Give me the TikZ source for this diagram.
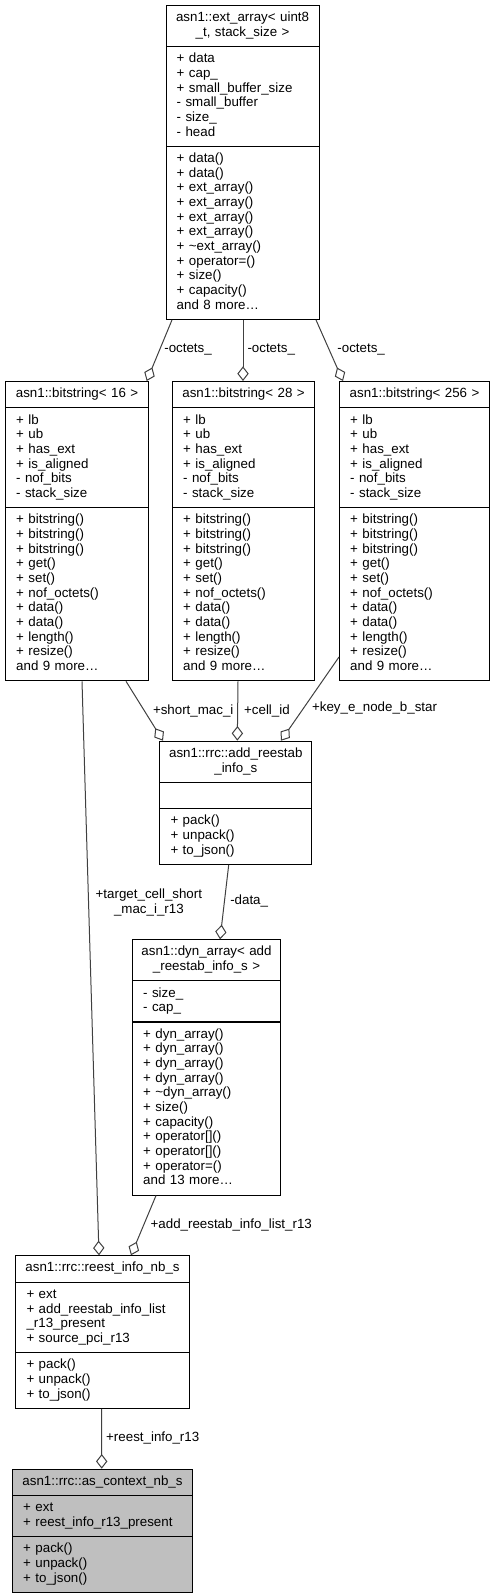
\documentclass[tikz,border=0pt]{standalone}
\usepackage{fontspec}
\setmainfont{Liberation Sans}
\usepackage{tikz}
\usetikzlibrary{arrows.meta,positioning,shapes.multipart,calc}
\definecolor{edgegray}{HTML}{404040}
\definecolor{selfbg}{HTML}{BFBFBF}
\newcommand{\ctitle}[1]{\makebox[\linewidth]{#1}}

\begin{document}
\begin{tikzpicture}[
  x=0.75pt, y=-0.75pt,
  cls/.style={draw=black, line width=0.8pt, rectangle split, rectangle split parts=3,
              anchor=north west, inner xsep=8pt, inner ysep=4pt, text width=#1*0.75pt-16pt,
              align=left, font=\fontsize{10}{11}\selectfont},
  agg/.style={draw=edgegray, line width=0.75pt,
              -{Diamond[open, length=11pt, width=8.5pt, fill=white]}},
  lbl/.style={anchor=west, inner sep=3pt, font=\fontsize{10}{11}\selectfont}
]
  \path[use as bounding box] (0,0) rectangle (494,1595);

  % template classes
  \node[cls=153] (ext) at (165.5,5) {\strut\ctitle{asn1::ext\_array< uint8}\\\ctitle{\_t, stack\_size >}\strut
    \nodepart{two}\strut + data\\+ cap\_\\+ small\_buffer\_size\\- small\_buffer\\- size\_\\- head\strut
    \nodepart{three}\strut + data()\\+ data()\\+ ext\_array()\\+ ext\_array()\\+ ext\_array()\\+ ext\_array()\\
      + \textasciitilde ext\_array()\\+ operator=()\\+ size()\\+ capacity()\\and 8 more\dots\strut};

  \node[cls=143] (bs16) at (5,381) {\strut\ctitle{asn1::bitstring< 16 >}\strut
    \nodepart{two}\strut + lb\\+ ub\\+ has\_ext\\+ is\_aligned\\- nof\_bits\\- stack\_size\strut
    \nodepart{three}\strut + bitstring()\\+ bitstring()\\+ bitstring()\\+ get()\\+ set()\\+ nof\_octets()\\
      + data()\\+ data()\\+ length()\\+ resize()\\and 9 more\dots\strut};
  \node[cls=142] (bs28) at (172,381) {\strut\ctitle{asn1::bitstring< 28 >}\strut
    \nodepart{two}\strut + lb\\+ ub\\+ has\_ext\\+ is\_aligned\\- nof\_bits\\- stack\_size\strut
    \nodepart{three}\strut + bitstring()\\+ bitstring()\\+ bitstring()\\+ get()\\+ set()\\+ nof\_octets()\\
      + data()\\+ data()\\+ length()\\+ resize()\\and 9 more\dots\strut};
  \node[cls=150] (bs256) at (339,381) {\strut\ctitle{asn1::bitstring< 256 >}\strut
    \nodepart{two}\strut + lb\\+ ub\\+ has\_ext\\+ is\_aligned\\- nof\_bits\\- stack\_size\strut
    \nodepart{three}\strut + bitstring()\\+ bitstring()\\+ bitstring()\\+ get()\\+ set()\\+ nof\_octets()\\
      + data()\\+ data()\\+ length()\\+ resize()\\and 9 more\dots\strut};

  % rrc structs
  \node[cls=152] (addinfo) at (159.3,740.7) {\strut\ctitle{asn1::rrc::add\_reestab}\\\ctitle{\_info\_s}\strut
    \nodepart{two}\strut
    \nodepart{three}\strut + pack()\\+ unpack()\\+ to\_json()\strut};

  \node[cls=148] (dynarr) at (132,939.3) {\strut\ctitle{asn1::dyn\_array< add}\\\ctitle{\_reestab\_info\_s >}\strut
    \nodepart{two}\strut - size\_\\- cap\_\strut
    \nodepart{three}\strut + dyn\_array()\\+ dyn\_array()\\+ dyn\_array()\\+ dyn\_array()\\+ \textasciitilde dyn\_array()\\
      + size()\\+ capacity()\\+ operator[]()\\+ operator[]()\\+ operator=()\\and 13 more\dots\strut};

  \node[cls=173.4] (reest) at (15.3,1255.3) {\strut\ctitle{asn1::rrc::reest\_info\_nb\_s}\strut
    \nodepart{two}\strut + ext\\+ add\_reestab\_info\_list\\\_r13\_present\\+ source\_pci\_r13\strut
    \nodepart{three}\strut + pack()\\+ unpack()\\+ to\_json()\strut};

  \node[cls=180, fill=selfbg] (ctx) at (12,1468.7) {\strut\ctitle{asn1::rrc::as\_context\_nb\_s}\strut
    \nodepart{two}\strut + ext\\+ reest\_info\_r13\_present\strut
    \nodepart{three}\strut + pack()\\+ unpack()\\+ to\_json()\strut};

  % aggregations
  \draw[agg] ($(ext.south west)+(6.5,0)$) -- node[lbl, pos=0.48] {-octets\_} ($(bs16.north west)+(141.7,0)$);
  \draw[agg] ($(ext.south west)+(77.5,0)$) -- node[lbl, pos=0.48] {-octets\_} ($(bs28.north west)+(71,0)$);
  \draw[agg] ($(ext.south west)+(150.5,0)$) -- node[lbl, pos=0.48, xshift=3pt] {-octets\_} ($(bs256.north west)+(4,0)$);

  \draw[agg] ($(bs16.south west)+(121,0)$) -- node[lbl, pos=0.5, xshift=3pt] {+short\_mac\_i} ($(addinfo.north west)+(3.7,0)$);
  \draw[agg] ($(bs28.south west)+(66,0)$) -- node[lbl, pos=0.5, xshift=1.5pt] {+cell\_id} ($(addinfo.north west)+(78,0)$);
  \draw[agg] ($(bs256.north west)+(0,276)$) -- node[lbl, pos=0.61, xshift=3pt] {+key\_e\_node\_b\_star} ($(addinfo.north west)+(121.7,0)$);

  \draw[agg] ($(addinfo.south west)+(69.4,0)$) -- node[lbl, pos=0.49, xshift=1pt] {-data\_} ($(dynarr.north west)+(88,0)$);

  \draw[agg] ($(bs16.south west)+(77,0)$) -- node[lbl, pos=0.385, xshift=2pt, align=center] {+target\_cell\_short\\\_mac\_i\_r13} ($(reest.north west)+(83.7,0)$);
  \draw[agg] ($(dynarr.south west)+(24,0)$) -- node[lbl, pos=0.5, xshift=2pt] {+add\_reestab\_info\_list\_r13} ($(reest.north west)+(115.7,0)$);

  \draw[agg] ($(reest.south west)+(86.4,0)$) -- node[lbl, pos=0.48] {+reest\_info\_r13} ($(ctx.north west)+(89.7,0)$);
\end{tikzpicture}
\end{document}
